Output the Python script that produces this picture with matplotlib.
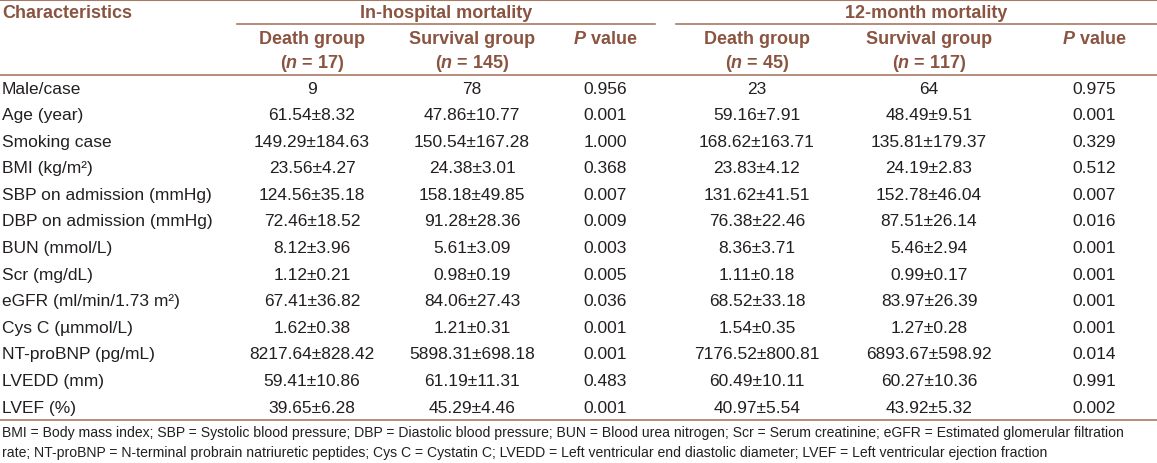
import matplotlib
matplotlib.use("Agg")
import matplotlib.pyplot as plt
from matplotlib import font_manager

# table contents
characteristics = ["Male/case", "Age (year)", "Smoking case", "BMI (kg/m\u00b2)",
                   "SBP on admission (mmHg)", "DBP on admission (mmHg)", "BUN (mmol/L)",
                   "Scr (mg/dL)", "eGFR (ml/min/1.73 m\u00b2)", "Cys C (\u00b5mmol/L)",
                   "NT-proBNP (pg/mL)", "LVEDD (mm)", "LVEF (%)"]
ih_death = ["9", "61.54\u00b18.32", "149.29\u00b1184.63", "23.56\u00b14.27", "124.56\u00b135.18",
            "72.46\u00b118.52", "8.12\u00b13.96", "1.12\u00b10.21", "67.41\u00b136.82",
            "1.62\u00b10.38", "8217.64\u00b1828.42", "59.41\u00b110.86", "39.65\u00b16.28"]
ih_survival = ["78", "47.86\u00b110.77", "150.54\u00b1167.28", "24.38\u00b13.01", "158.18\u00b149.85",
               "91.28\u00b128.36", "5.61\u00b13.09", "0.98\u00b10.19", "84.06\u00b127.43",
               "1.21\u00b10.31", "5898.31\u00b1698.18", "61.19\u00b111.31", "45.29\u00b14.46"]
ih_p = ["0.956", "0.001", "1.000", "0.368", "0.007", "0.009", "0.003", "0.005", "0.036",
        "0.001", "0.001", "0.483", "0.001"]
m12_death = ["23", "59.16\u00b17.91", "168.62\u00b1163.71", "23.83\u00b14.12", "131.62\u00b141.51",
             "76.38\u00b122.46", "8.36\u00b13.71", "1.11\u00b10.18", "68.52\u00b133.18",
             "1.54\u00b10.35", "7176.52\u00b1800.81", "60.49\u00b110.11", "40.97\u00b15.54"]
m12_survival = ["64", "48.49\u00b19.51", "135.81\u00b1179.37", "24.19\u00b12.83", "152.78\u00b146.04",
                "87.51\u00b126.14", "5.46\u00b12.94", "0.99\u00b10.17", "83.97\u00b126.39",
                "1.27\u00b10.28", "6893.67\u00b1598.92", "60.27\u00b110.36", "43.92\u00b15.32"]
m12_p = ["0.975", "0.001", "0.329", "0.512", "0.007", "0.016", "0.001", "0.001", "0.001",
         "0.001", "0.014", "0.991", "0.002"]
ih_n = ["17", "145"]
m12_n = ["45", "117"]
footnote = ["BMI = Body mass index; SBP = Systolic blood pressure; DBP = Diastolic blood pressure; BUN = Blood urea nitrogen; Scr = Serum creatinine; eGFR = Estimated glomerular filtration",
            "rate; NT-proBNP = N-terminal probrain natriuretic peptides; Cys C = Cystatin C; LVEDD = Left ventricular end diastolic diameter; LVEF = Left ventricular ejection fraction"]

plt.rcParams["font.family"] = ["Liberation Sans", "DejaVu Sans"]
plt.rcParams["mathtext.fontset"] = "custom"
plt.rcParams["mathtext.it"] = "Liberation Sans:italic:bold"
plt.rcParams["mathtext.rm"] = "Liberation Sans:bold"

names = [f.name for f in font_manager.fontManager.ttflist]
foot_font = "Liberation Sans Narrow" if "Liberation Sans Narrow" in names else "Liberation Sans"
foot_size = 11.5 if foot_font == "Liberation Sans Narrow" else 10.05

head_col = "#8a5440"
line_col = "#a87a63"
txt_col = "#231f20"

fig = plt.figure(figsize=(11.57, 4.64), dpi=100)
ax = fig.add_axes([0, 0, 1, 1])
ax.set_xlim(0, 1157)
ax.set_ylim(464, 0)
ax.axis("off")

col_x = [312, 472, 605, 757, 929, 1094]
fs = 12.5
hfs = 13

# header
ax.axhline(1, color=line_col, lw=1.5)
ax.text(2, 13, "Characteristics", ha="left", va="center", fontsize=hfs, fontweight="bold", color=head_col)
ax.text(446, 13, "In-hospital mortality", ha="center", va="center", fontsize=hfs, fontweight="bold", color=head_col)
ax.text(926, 13, "12-month mortality", ha="center", va="center", fontsize=hfs, fontweight="bold", color=head_col)
ax.plot([237, 655], [25, 25], color=line_col, lw=1.2)
ax.plot([676, 1157], [25, 25], color=line_col, lw=1.2)

ns = [ih_n[0], ih_n[1], None, m12_n[0], m12_n[1], None]
subs = ["Death group", "Survival group", None, "Death group", "Survival group", None]
for x, s, n in zip(col_x, subs, ns):
    if s is None:
        ax.text(x, 40, r"$\mathit{P}$ value", ha="center", va="center", fontsize=hfs,
                fontweight="bold", color=head_col)
    else:
        ax.text(x, 40, s, ha="center", va="center", fontsize=hfs, fontweight="bold", color=head_col)
        ax.text(x, 63, r"($\mathit{n}$ = " + n + ")", ha="center", va="center", fontsize=hfs,
                fontweight="bold", color=head_col)
ax.axhline(76, color=line_col, lw=1.2)

# body rows
columns = [ih_death, ih_survival, ih_p, m12_death, m12_survival, m12_p]
y0 = 89
dy = 26.6
for i, name in enumerate(characteristics):
    y = y0 + i * dy
    ax.text(2, y, name, ha="left", va="center", fontsize=fs, color=txt_col)
    for x, col in zip(col_x, columns):
        ax.text(x, y, col[i], ha="center", va="center", fontsize=fs, color=txt_col)

ax.axhline(421, color=line_col, lw=1.2)
ax.text(2, 433, footnote[0], ha="left", va="center", fontsize=foot_size, family=foot_font, color=txt_col)
ax.text(2, 453, footnote[1], ha="left", va="center", fontsize=foot_size, family=foot_font, color=txt_col)

fig.savefig("out.png", dpi=100, facecolor="white")
